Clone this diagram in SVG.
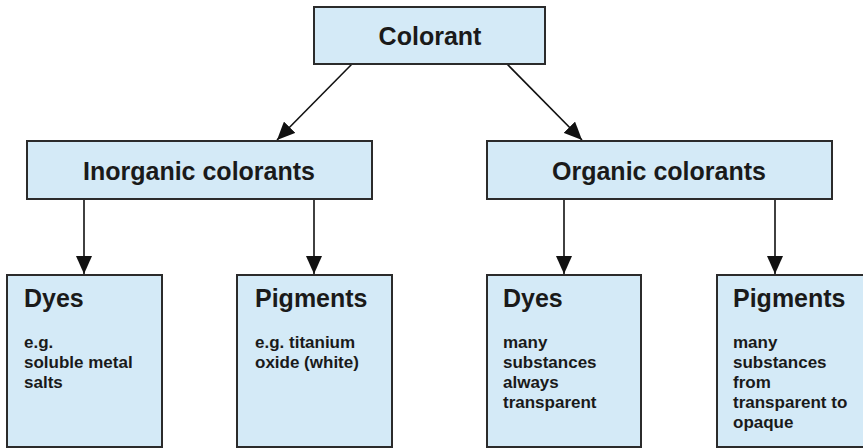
<svg xmlns="http://www.w3.org/2000/svg" width="863" height="448" viewBox="0 0 863 448">
<style>
.box{fill:#d4eaf7;stroke:#2b2b2b;stroke-width:2}
.t{font-family:"Liberation Sans",Arial,sans-serif;font-weight:bold;fill:#1a1a1a}
.h{font-size:25px}
.s{font-size:17px}
.c{stroke:#111;stroke-width:1.6;fill:none;marker-end:url(#ah)}
</style>
<defs>
<marker id="ah" viewBox="0 0 18 16" refX="18" refY="8" markerWidth="18" markerHeight="16" markerUnits="userSpaceOnUse" orient="auto">
<path d="M0,0 L18,8 L0,16 Z" fill="#111"/>
</marker>
</defs>
<g id="connectors">
<line class="c" x1="352" y1="64" x2="277" y2="140"/>
<line class="c" x1="507" y1="64" x2="582" y2="140"/>
<line class="c" x1="84" y1="199" x2="84" y2="274"/>
<line class="c" x1="314" y1="199" x2="314" y2="274"/>
<line class="c" x1="564" y1="199" x2="564" y2="274"/>
<line class="c" x1="775" y1="199" x2="775" y2="274"/>
</g>
<g id="colorant">
<rect class="box" x="314" y="7" width="231" height="57"/>
<text class="t h" x="430" y="45" text-anchor="middle">Colorant</text>
</g>
<g id="inorganic">
<rect class="box" x="27" y="141" width="345" height="58"/>
<text class="t h" x="199" y="180" text-anchor="middle">Inorganic colorants</text>
</g>
<g id="organic">
<rect class="box" x="487" y="141" width="345" height="58"/>
<text class="t h" x="659" y="180" text-anchor="middle">Organic colorants</text>
</g>
<g id="inorganic-dyes">
<rect class="box" x="7" y="275" width="155" height="172"/>
<text class="t h" x="24" y="307">Dyes</text>
<text class="t s" x="24" y="348">e.g.</text>
<text class="t s" x="24" y="368">soluble metal</text>
<text class="t s" x="24" y="388">salts</text>
</g>
<g id="inorganic-pigments">
<rect class="box" x="237" y="275" width="155" height="172"/>
<text class="t h" x="255" y="307">Pigments</text>
<text class="t s" x="255" y="348">e.g. titanium</text>
<text class="t s" x="255" y="368">oxide (white)</text>
</g>
<g id="organic-dyes">
<rect class="box" x="487" y="275" width="154" height="172"/>
<text class="t h" x="503" y="307">Dyes</text>
<text class="t s" x="503" y="348">many</text>
<text class="t s" x="503" y="368">substances</text>
<text class="t s" x="503" y="388">always</text>
<text class="t s" x="503" y="408">transparent</text>
</g>
<g id="organic-pigments">
<rect class="box" x="717" y="275" width="160" height="172"/>
<text class="t h" x="733" y="307">Pigments</text>
<text class="t s" x="733" y="348">many</text>
<text class="t s" x="733" y="368">substances</text>
<text class="t s" x="733" y="388">from</text>
<text class="t s" x="733" y="408">transparent to</text>
<text class="t s" x="733" y="428">opaque</text>
</g>
</svg>
